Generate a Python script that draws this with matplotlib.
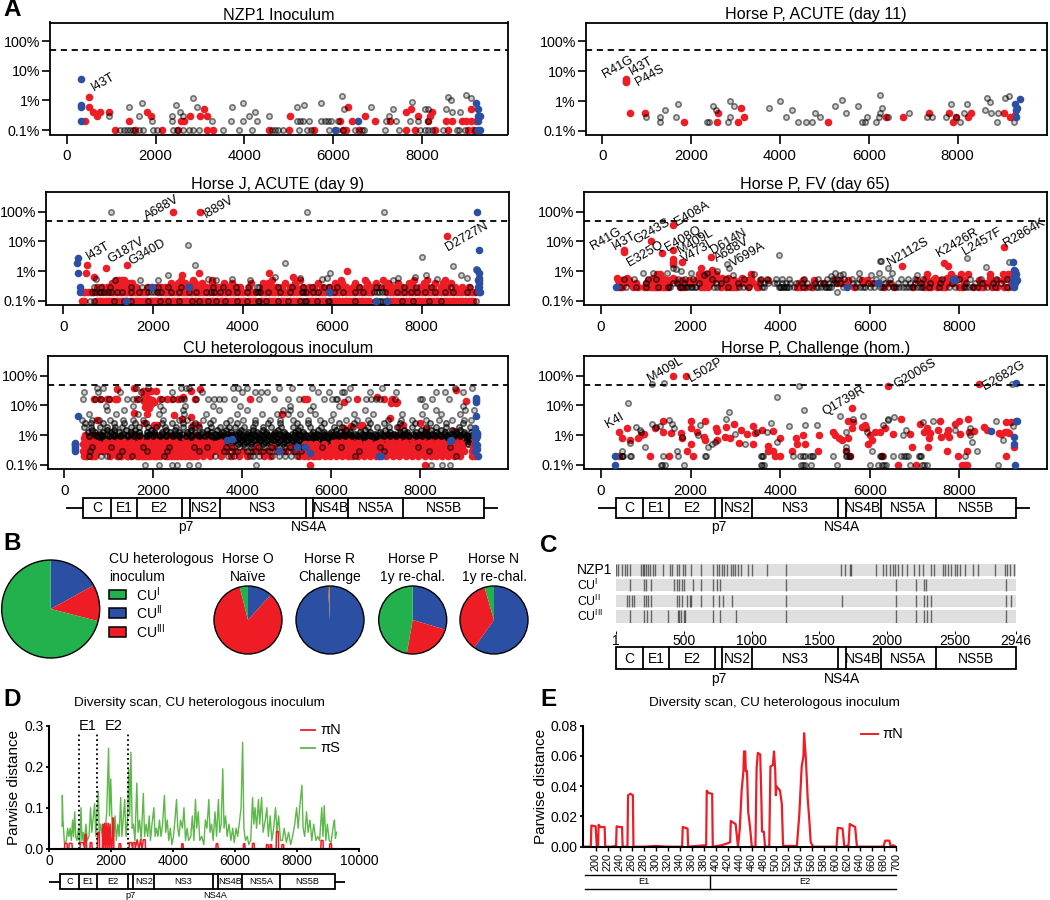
import matplotlib
matplotlib.use('Agg')
import matplotlib.pyplot as plt
from matplotlib.patches import Rectangle, Circle

plt.rcParams['font.family'] = ['Liberation Sans', 'DejaVu Sans']
plt.rcParams['mathtext.default'] = 'regular'

W, H = 1050, 900
RED = '#EE1C25'
BLUE = '#2B4FA2'
GREEN = '#22B14C'

# --- panel A: NZP1 inoculum ---
nzp_red_x = [510, 510, 600, 675, 750, 950, 410, 1095, 1410, 1545, 1815, 1890, 2145, 2500, 2570, 2650, 2775, 3090, 3000, 3165, 3150, 3285, 4560, 5030, 5000, 5565, 6150, 6210, 6300, 6325, 6435, 6710, 6940, 6585, 7290, 7635, 7750, 7900, 7635, 7840, 8220, 8175, 8145, 8290, 8590, 8550, 8685, 8890, 9000, 9110, 9210, 9105, 9040, 9150]
nzp_red_y = [1.3, 0.58, 0.4, 0.3, 0.4, 0.4, 0.2, 0.1, 0.2, 0.1, 0.4, 0.3, 0.1, 0.1, 0.2, 0.2, 0.3, 0.5, 0.3, 0.3, 0.1, 0.1, 0.1, 0.3, 0.1, 0.1, 0.2, 0.1, 0.1, 0.6, 0.2, 0.3, 0.2, 0.1, 0.2, 0.4, 0.5, 0.3, 0.1, 0.1, 0.4, 0.3, 0.2, 0.1, 0.1, 0.2, 0.2, 0.2, 0.2, 0.2, 0.2, 0.5, 0.1, 0.1]
nzp_blue_x = [330, 330, 330, 315, 9210, 9265, 9265, 9315, 9265, 6040, 6560, 9265, 9300]
nzp_blue_y = [5.4, 0.68, 0.58, 0.2, 0.8, 0.5, 0.3, 0.3, 0.2, 0.1, 0.2, 0.1, 0.1]
nzp_gray_x = [960, 1400, 1700, 1635, 1910, 2370, 2470, 2550, 2370, 2850, 2940, 2625, 3280, 3730, 3960, 3690, 3960, 4110, 4240, 4280, 4550, 5190, 5350, 5715, 5175, 5250, 5325, 5460, 5715, 5810, 5885, 5940, 6110, 6200, 6250, 6850, 7350, 7260, 7185, 7425, 7785, 7725, 8060, 8140, 7900, 8140, 8590, 8660, 8535, 8685, 8850, 9000, 9100]
nzp_gray_y = [0.3, 0.6, 0.8, 0.3, 0.2, 0.3, 0.7, 0.4, 0.2, 1.2, 0.6, 0.3, 0.2, 0.6, 0.8, 0.2, 0.2, 0.3, 0.4, 0.2, 0.3, 0.6, 0.7, 0.8, 0.2, 0.2, 0.2, 0.2, 0.2, 0.2, 0.2, 0.2, 0.2, 1.4, 0.5, 0.6, 0.5, 0.3, 0.2, 0.2, 0.9, 0.2, 0.5, 0.5, 0.2, 0.2, 1.3, 1.0, 0.5, 0.4, 0.4, 1.5, 1.25]
nzp_gray_01 = [1200, 1290, 1350, 1425, 1500, 1635, 1725, 1935, 2025, 2385, 2475, 2610, 2760, 2850, 2970, 3510, 3870, 4170, 4615, 4690, 4760, 4860, 5235, 5400, 5490, 5910, 6075, 6225, 6490, 6640, 6690, 7165, 7485, 7950, 8065, 8140, 8235, 8480, 8780, 8835, 8965, 9190]
nzp_labels = ['I43T']
nzp_label_x = [825]
nzp_label_y = [4.2]

# --- panel A: Horse P acute ---
pa_red_x = [525, 525, 525, 615, 960, 1830, 2600, 2580, 3120, 3050, 3190, 5070, 6380, 6760, 7355, 7805, 7960, 7900, 8290, 8240, 9040, 9180, 9290]
pa_red_y = [5.6, 4.8, 4.4, 0.4, 0.4, 0.2, 0.4, 0.2, 0.6, 0.2, 0.3, 0.2, 0.3, 0.3, 0.4, 0.4, 0.3, 0.2, 0.4, 0.3, 0.4, 0.3, 0.33]
pa_blue_x = [9400, 9280, 9330, 9305, 9320]
pa_blue_y = [1.2, 0.8, 0.6, 0.5, 0.3]
pa_gray_x = [975, 1290, 1290, 1420, 1660, 1710, 2350, 2410, 2500, 2550, 2840, 2875, 2875, 2970, 3760, 4000, 4135, 4260, 4410, 4585, 4710, 4790, 4890, 5230, 5395, 5490, 5760, 5840, 5910, 5965, 6160, 6230, 6260, 6300, 6260, 6440, 6905, 7320, 7415, 7730, 7850, 7960, 8050, 8150, 8220, 8615, 8660, 8735, 8750, 8880, 8915, 9065, 9165, 9260]
pa_gray_y = [0.3, 0.3, 0.2, 0.5, 0.3, 0.8, 0.2, 0.2, 0.7, 0.5, 0.2, 0.3, 1.0, 0.7, 0.6, 1.0, 0.3, 0.5, 0.2, 0.2, 0.2, 0.4, 0.3, 0.7, 1.1, 0.4, 0.7, 0.2, 0.2, 0.3, 0.2, 0.3, 0.4, 0.6, 1.6, 0.3, 0.4, 0.3, 0.3, 0.3, 0.8, 0.3, 0.2, 0.4, 0.8, 0.5, 1.25, 0.9, 0.4, 0.2, 0.4, 1.3, 1.45, 0.2]
pa_labels = ['R41G', 'I43T', 'P44S']
pa_label_x = [360, 870, 1073]
pa_label_y = [14, 15.3, 7.1]

# --- panel A: Horse J acute ---
j_red_x = [2455, 3050, 8570, 1415, 950, 520, 505, 690, 6330, 4590, 5135, 3020, 2640]
j_red_y = [100, 100, 15.5, 1.6, 1.25, 1.6, 0.9, 0.65, 1.0, 0.85, 0.65, 0.85, 0.75]
j_red_01 = [420, 470, 720, 770, 820, 870, 920, 970, 1020, 1070, 1120, 1170, 1230, 1280, 1330, 1380, 1430, 1490, 1540, 1600, 1650, 1700, 1760, 1820, 1870, 1930, 1980, 2040, 2090, 2150, 2210, 2260, 2320, 2370, 2430, 2480, 2540, 2590, 2650, 2710, 2760, 2820, 2870, 2930, 2990, 3040, 3100, 3150, 3210, 3270, 3320, 3380, 3440, 3490, 3550, 3610, 3660, 3720, 3780, 3830, 3890, 3950, 4000, 4060, 4120, 4170, 4230, 4280, 4390, 4440, 4500, 4560, 4620, 4680, 4730, 4790, 4850, 4910, 4970, 5030, 5090, 5150, 5210, 5270, 5330, 5440, 5500, 5560, 5620, 5680, 5730, 5790, 5850, 5980, 6040, 6100, 6160, 6220, 6280, 6340, 6400, 6460, 6520, 6580, 6640, 6700, 6760, 6820, 7230, 7290, 7350, 7410, 7470, 7530, 7590, 7650, 7710, 7770, 7830, 7890, 7950, 8010, 8070, 8130, 8190, 8250, 8310, 8370, 8430, 8490, 8550, 8610, 8670, 8730, 8790, 8850, 8910, 8970, 9030, 9090, 9150]
j_red_02 = [430, 490, 560, 610, 660, 760, 830, 880, 950, 1010, 1090, 1140, 1200, 1260, 1310, 1370, 1420, 1480, 1540, 1590, 1650, 1720, 1790, 1840, 2120, 2190, 2250, 2300, 2360, 2410, 2470, 2530, 2590, 2640, 2700, 2760, 2820, 2880, 2940, 3000, 3060, 3120, 3190, 3260, 3350, 3420, 3480, 3540, 3600, 3660, 3720, 3780, 3840, 3900, 3960, 4020, 4090, 4150, 4210, 4270, 4410, 4470, 4530, 4600, 4660, 4720, 4790, 4860, 4930, 5000, 5060, 5120, 5200, 5280, 5400, 5470, 5550, 5640, 5710, 5780, 5850, 5950, 6020, 6090, 6160, 6230, 6310, 6380, 6450, 6520, 6590, 6660, 6730, 6800, 6870, 7230, 7300, 7370, 7440, 7510, 7580, 7650, 7720, 7790, 7860, 7930, 8000, 8070, 8140, 8210, 8280, 8350, 8420, 8490, 8560, 8630, 8700, 8770, 8840, 8910, 8980, 9050, 9120, 9190]
j_red_03 = [760, 860, 980, 1050, 1120, 1190, 1260, 1320, 1380, 1440, 1500, 1560, 1620, 1900, 2060, 2170, 2260, 2380, 2470, 2560, 2650, 2760, 2900, 2980, 3080, 3190, 3300, 3420, 3520, 3650, 3780, 3880, 3950, 4140, 4450, 4590, 4680, 4770, 4880, 5050, 5200, 5350, 5480, 5600, 5780, 5920, 6050, 6180, 6300, 6460, 6600, 6750, 6880, 7020, 7180, 7330, 7450, 7560, 7690, 7810, 7960, 8120, 8260, 8430, 8560, 8750, 8900, 9060]
j_red_04 = [1080, 1170, 1240, 1300, 1360, 1420, 1480, 1540, 2410, 2560, 2610, 2710, 2880, 2950, 3100, 3320, 3580, 3760, 4190, 4450, 4560, 4950, 5170, 5680, 6070, 6210, 6500, 6790, 6990, 7250, 7480, 7720, 8060, 8290, 8480, 8650]
j_red_05 = [1170, 1240, 1300, 1360, 2620, 2900, 3330, 4650, 5290, 6190, 6730, 7130, 7830, 8120, 8530]
j_blue_x = [320, 310, 320, 370, 370, 9240, 9280, 9225, 9280, 9270, 9290, 9260, 9280, 9260, 9290, 9270, 9300, 5940, 1400, 1970, 2800, 7220, 6980]
j_blue_y = [2.8, 1.9, 0.85, 0.3, 0.2, 100, 5, 1.1, 0.85, 0.6, 0.5, 0.5, 0.4, 0.3, 0.3, 0.2, 0.2, 0.2, 0.1, 0.3, 0.3, 0.1, 0.1]
j_gray_x = [1055, 5450, 7160, 2775, 2940, 4955, 8005, 8690, 8870, 9210, 2345, 5950, 4725, 7850, 8095, 1160, 1720, 2120, 3230, 3400, 5290, 5780, 5880, 7370, 7480, 8340, 9000, 740, 3770, 4160]
j_gray_y = [100, 100, 100, 7.8, 1.6, 1.95, 3, 1.5, 0.75, 1.2, 0.75, 0.85, 0.65, 0.65, 0.75, 0.5, 0.5, 0.5, 0.55, 0.5, 0.6, 0.55, 0.6, 0.5, 0.6, 0.55, 0.6, 0.55, 0.55, 0.5]
j_gray_01 = [600, 690, 1130, 1350, 1510, 1880, 2150, 2330, 2590, 2870, 3020, 3240, 3400, 3610, 3870, 4090, 4340, 4360, 4520, 4800, 5010, 5290, 5390, 5420, 5660, 5900, 5920, 6500, 6950, 7020, 7060, 7120, 7170, 7560, 7800, 8160, 8420, 9220]
j_gray_02 = [650, 700, 790, 850, 900, 1000, 1070, 1200, 1300, 1500, 1700, 1880, 1960, 2030, 2100, 2180, 2400, 2580, 2800, 2960, 3180, 3300, 3370, 3500, 3680, 3870, 4100, 4300, 4350, 4380, 4560, 4830, 5060, 5330, 5360, 5420, 5570, 5680, 5920, 6040, 6240, 6500, 6700, 6940, 7000, 7050, 7110, 7170, 7440, 7600, 7760, 7900, 8080, 8300, 8520, 8690, 9010, 9220]
j_gray_03 = [680, 850, 1040, 1520, 1760, 1860, 2110, 2340, 2630, 2800, 3350, 3560, 3850, 4130, 4320, 4370, 4800, 5110, 5350, 5560, 5830, 5920, 6120, 6590, 6980, 7090, 7600, 7880, 8210, 8650, 9080]
j_labels = ['I43T', 'G187V', 'G340D', 'A688V', 'I889V', 'D2727N']
j_label_x = [781, 1400, 1875, 2200, 3460, 9000]
j_label_y = [4.9, 4.9, 4.3, 131, 138, 14.3]

# --- panel A: Horse P FV ---
fv_red_x = [1615, 1115, 1615, 1355, 515, 515, 1615, 1615, 1615, 1800, 2455, 8990, 6725, 7665, 7750, 2230, 2470]
fv_red_y = [35, 10.5, 5.3, 4, 5, 4.3, 2.5, 2.1, 1.8, 2, 3, 6.5, 1.5, 1.9, 1.45, 1.25, 1.1]
fv_red_03 = [410, 480, 720, 830, 960, 1030, 1090, 1150, 1200, 1260, 1310, 1390, 1440, 1490, 1770, 1850, 2240, 2310, 2390, 2690, 2790, 2880, 2950, 3010, 3280, 3480, 3500, 4370, 4450, 4560, 4700, 5640, 6310, 6550, 6960, 7220, 7290, 7370, 7500, 7610, 7680, 7990, 8060, 8300, 8450, 8540, 8730, 8850, 9000, 9090]
fv_red_04 = [400, 520, 650, 780, 1010, 1120, 1180, 1240, 1300, 1350, 1410, 1470, 1520, 1720, 1900, 2000, 2250, 2350, 2450, 2720, 2830, 2900, 3000, 3100, 3220, 3400, 4420, 4750, 4980, 5260, 5380, 5500, 5860, 6030, 6420, 7190, 7280, 7450, 7520, 7600, 7740, 7860, 8100, 8550, 8640, 8780]
fv_red_05 = [380, 470, 620, 1060, 1140, 1200, 1270, 1330, 1380, 1450, 1530, 1650, 1810, 1960, 2120, 2250, 2360, 2510, 2650, 2760, 2860, 2960, 3120, 3290, 3540, 3720, 4510, 4760, 5220, 5330, 5520, 5820, 5950, 7060, 7240, 7410, 7560, 7680, 7800, 7920, 8100, 8430, 8850, 8970, 9140]
fv_red_06 = [350, 580, 1170, 1240, 1300, 1370, 1600, 2220, 2310, 2420, 2520, 2580, 2700, 2840, 3140, 3350, 7250, 7460, 7720, 7900, 8020, 8680, 9010, 9120]
fv_red_08 = [1250, 1320, 2180, 2260, 2340, 2410, 2570, 3340, 7270, 7820, 8030, 8200, 8690, 8980, 9090, 9160]
fv_blue_x = [340, 5490, 6190, 7850, 7900, 9210, 9225, 9250, 9270, 9200, 9240, 9210, 9265, 9210, 9240, 9280, 9230]
fv_blue_y = [0.3, 0.3, 0.4, 0.55, 0.5, 2, 1.1, 1.05, 0.8, 0.6, 0.55, 0.4, 0.55, 0.35, 0.4, 0.5, 0.3]
fv_gray_x = [3965, 8170, 6220, 6250, 2810, 2855, 9110, 8600, 6400, 5260, 1610, 1680, 1470, 3420, 6030, 5750, 6200, 6500, 7050, 930, 1170, 1780, 2010, 2600, 2940, 5140, 5230, 5340, 5400, 2290, 2370]
fv_gray_y = [3.5, 2.7, 2.2, 2.2, 1.8, 1.3, 2, 1.4, 1.3, 0.2, 1.3, 1.2, 0.85, 0.8, 0.75, 0.9, 0.85, 0.85, 0.75, 0.85, 0.9, 1.0, 0.9, 1.0, 0.75, 0.7, 0.85, 0.75, 0.8, 0.75, 0.85]
fv_gray_03 = [430, 560, 780, 1010, 1280, 1500, 1540, 1760, 1800, 1890, 1950, 2000, 2040, 2090, 2130, 2520, 2600, 2830, 3080, 3180, 3300, 3600, 3650, 3980, 4000, 4020, 4060, 4090, 4120, 4150, 4200, 4300, 4500, 4650, 4800, 4850, 4920, 5000, 5030, 5060, 5090, 5130, 5410, 5700, 5780, 5850, 5900, 6000, 6100, 6220, 6280, 6400, 6520, 6590, 6650, 6750, 6800, 6870, 6950, 7050, 7120, 7170, 7330, 7550, 7780, 7900, 8110, 8160, 8220, 8310, 8390, 8610, 8800, 9060, 9180]
fv_gray_04 = [1000, 1600, 1700, 1850, 2190, 2560, 2670, 3070, 3560, 3640, 3720, 3860, 3930, 4040, 4130, 4230, 4360, 4480, 4610, 4780, 4900, 4960, 5100, 5180, 5250, 5340, 5620, 5720, 5960, 6100, 6190, 6330, 6480, 6640, 6780, 6900, 7000, 7140, 7340, 7580, 7840, 8140, 8350, 8500, 8760, 8920]
fv_gray_05 = [520, 740, 1060, 1230, 1710, 1880, 2060, 2480, 2780, 3200, 3580, 3700, 3900, 4050, 4200, 4540, 4850, 5050, 5170, 5280, 5420, 5600, 5750, 6150, 6300, 6460, 6700, 6860, 7010, 7200, 7620, 8000, 8250, 8480, 8830, 9060]
fv_labels = ['R41G', 'I43T', 'G243S', 'E408A', 'E325Q', 'E408Q', 'M409L', 'V473I', 'D614N', 'A688V', 'V699A', 'N2112S', 'K2426R', 'L2457F', 'R2864K']
fv_label_x = [110, 520, 1130, 2025, 997, 1838, 2098, 2135, 2857, 2917, 3274, 6860, 7961, 8512, 9442]
fv_label_y = [11.7, 10.5, 21, 82, 3.9, 12.6, 9.8, 4.5, 9.8, 5.1, 3.5, 4.5, 9, 9.8, 20]

# --- panel A: CU heterologous inoculum ---
cu_red_x = [1180, 1570, 1780, 1870, 1950, 2060, 2860, 3050, 8800, 9030, 4170, 5390, 5450, 6280, 6580, 7030, 7200, 7340, 7380, 7450, 7480, 660, 1190, 1130, 800, 950, 1000, 1640, 2150, 2300, 2420, 2550, 2680, 2950, 1800, 1830, 1860, 1900, 1930, 1970, 2010, 1790, 1850, 1880, 1960, 1820, 1900, 1560, 1860, 2470, 2650, 2850, 4900, 7330, 8000, 730, 1800, 2020, 2080, 2890, 3000, 6700, 7620, 6450, 6300, 6640, 7520, 8130, 8760, 5520, 8110]
cu_red_y = [35, 40, 30, 30, 30, 30, 30, 35, 33, 14, 17, 17, 17, 13, 17, 19, 17, 12, 17, 12, 13, 17, 17, 17, 17, 17, 17, 17, 17, 17, 17, 17, 19, 17, 22, 20, 18, 16, 14, 15, 13, 14, 12, 10, 11, 9, 8, 5.7, 5, 4.8, 3.5, 4.2, 5, 3.8, 2.6, 3.2, 2.5, 2.2, 2.2, 2.2, 2.2, 2.2, 2.2, 2, 1.7, 2, 1.9, 1.6, 1.4, 0.1, 0.1]
cu_red_02 = [440, 490, 520, 590, 640, 690, 1020, 1180, 1240, 1280, 1400, 1430, 1490, 1640, 1690, 1740, 1790, 1830, 1890, 1920, 2010, 2070, 2150, 2290, 2330, 2410, 2470, 2530, 2620, 2710, 2800, 2860, 2900, 2990, 3120, 3280, 3520, 3760, 3940, 4110, 4500, 4620, 5280, 5380, 5490, 5590, 5630, 5730, 5870, 5980, 6110, 6240, 6370, 6480, 6600, 6730, 6870, 7000, 7240, 7390, 7530, 7680, 7830, 7960, 8110, 8240, 8370, 8500, 8640, 8770, 8910, 9160, 9230]
cu_red_03 = [420, 490, 560, 640, 760, 880, 1000, 1120, 1240, 1340, 1460, 1580, 1700, 1820, 1950, 2070, 2190, 2320, 2450, 2570, 2690, 2830, 2960, 3080, 3210, 3340, 3470, 3640, 3850, 4030, 4240, 4400, 4550, 4780, 4960, 5160, 5340, 5470, 5620, 5780, 5920, 6050, 6170, 6310, 6440, 6560, 6690, 6810, 6950, 7080, 7210, 7340, 7480, 7620, 7770, 7900, 8050, 8170, 8310, 8450, 8590, 8720, 8860, 8990, 9180]
cu_red_04 = [460, 530, 600, 720, 840, 960, 1090, 1210, 1310, 1430, 1550, 1670, 1790, 1910, 2040, 2170, 2280, 2400, 2510, 2640, 2770, 2900, 3030, 3150, 3300, 3430, 3560, 3740, 4340, 4680, 5080, 5440, 5570, 5700, 5830, 6000, 6130, 6270, 6400, 6530, 6650, 6780, 6900, 7040, 7170, 7300, 7440, 7580, 7720, 7860, 8000, 8140, 8280, 8410, 8550, 8680, 8820, 8950, 9200]
cu_red_05 = [430, 500, 620, 780, 920, 1040, 1160, 1280, 1400, 1520, 1640, 1770, 1880, 2010, 2130, 2250, 2380, 2490, 2610, 2750, 2870, 3000, 3130, 3270, 3390, 3530, 5410, 5530, 5660, 5850, 6090, 6230, 6360, 6480, 6620, 6760, 6870, 7010, 7130, 7270, 7410, 7550, 7690, 7840, 7970, 8100, 8250, 8390, 8530, 8660, 8790, 8930, 9220]
cu_red_06 = [470, 560, 680, 940, 1080, 1350, 1490, 1730, 1860, 2110, 2360, 2480, 2730, 2980, 3110, 3250, 3510, 6070, 6340, 6600, 6850, 7110, 7380, 7660, 7950, 8220, 8500, 8770, 9240]
cu_red_08 = [450, 540, 660, 1220, 1530, 1710, 1990, 2240, 2470, 2720, 2970, 3240, 3520, 6190, 6450, 7230, 7510, 7790, 8070, 8350, 8890, 9220, 9260]
cu_red_10 = [470, 590, 730, 1550, 2050, 2340, 2960, 3230, 3750, 6320, 7360, 7640, 8060, 9230]
cu_blue_x = [310, 250, 250, 250, 250, 250, 250, 9260, 9270, 9270, 9260, 9240, 9240, 9260, 9290, 9240, 9290, 9250, 9280, 9240, 9270, 9230, 9290, 9290, 9230, 9300, 3650, 3780, 4830, 5530, 7120, 7070, 8700, 8680, 5230, 5410]
cu_blue_y = [4.3, 0.55, 0.5, 0.45, 0.4, 0.35, 0.3, 18, 15, 13, 4.3, 1.7, 1.4, 1.3, 1.2, 1.1, 1.05, 0.95, 0.9, 0.85, 0.8, 0.5, 0.45, 0.35, 0.3, 0.2, 0.7, 0.75, 0.3, 0.25, 0.2, 0.2, 0.7, 0.65, 0.4, 0.4]
cu_gray_01 = [1810, 2120, 2420, 2530, 2810, 3000, 4310, 8240, 8500, 8680]
cu_gray_02 = [560, 820, 960, 1240, 1530, 2250, 3390, 3680, 3820, 4170, 4240, 4390, 4670, 4820, 4960, 5100, 5240, 6530, 7100, 8820]
cu_gray_03 = [580, 1290, 1870, 2300, 3020, 3600, 3740, 3880, 4100, 4170, 4320, 4460, 4600, 4750, 4890, 5030, 5180, 5320, 6620, 7190, 8200]
cu_gray_04 = [630, 1050, 1770, 2350, 2920, 3210, 3640, 3780, 3930, 4070, 4210, 4360, 4500, 4640, 4790, 4930, 5070, 5220, 5360, 5790, 6230, 7090, 7950, 8670]
cu_gray_05 = [470, 610, 740, 890, 1030, 1170, 1310, 1460, 1600, 1750, 1890, 2030, 2180, 2320, 2460, 2610, 2750, 2900, 3040, 3180, 3330, 3470, 3610, 3760, 3900, 4050, 4190, 4330, 4480, 4620, 4770, 4910, 5050, 5200, 5340, 5480, 5630, 5770, 5910, 6060, 6200, 6350, 6490, 6630, 6780, 6920, 7060, 7210, 7350, 7500, 7640, 7780, 7930, 8070, 8210, 8360, 8500, 8650, 8790, 8930, 9080, 9200]
cu_gray_06 = [520, 650, 790, 930, 1070, 1220, 1360, 1500, 1650, 1790, 1940, 2080, 2220, 2370, 2510, 2650, 2800, 2940, 3090, 3230, 3370, 3520, 3660, 3800, 3950, 4090, 4230, 4380, 4520, 4660, 4810, 4950, 5090, 5240, 5380, 5530, 5670, 5810, 5960, 6100, 6250, 6390, 6530, 6680, 6820, 6960, 7110, 7250, 7390, 7540, 7680, 7830, 7970, 8110, 8260, 8400, 8540, 8690, 8830, 8980, 9120, 9200]
cu_gray_07 = [600, 720, 870, 1010, 1130, 1280, 1400, 1550, 1720, 1830, 1980, 2130, 2270, 2400, 2560, 2700, 2850, 2990, 3130, 3280, 3420, 3580, 3700, 3850, 3990, 4120, 4270, 4410, 4560, 4700, 4860, 4990, 5130, 5280, 5420, 5570, 5700, 5850, 6000, 6140, 6280, 6420, 6570, 6710, 6860, 7000, 7140, 7290, 7430, 7570, 7720, 7870, 8010, 8150, 8290, 8440, 8580, 8730, 8870, 9020, 9150]
cu_gray_08 = [490, 620, 770, 900, 1040, 1190, 1330, 1470, 1620, 1770, 1910, 2050, 2200, 2340, 2480, 2630, 2770, 2910, 3060, 3200, 3350, 3490, 3630, 3780, 3920, 4060, 4210, 4350, 4490, 4640, 4780, 4930, 5070, 5210, 5360, 5500, 5640, 5790, 5930, 6080, 6220, 6360, 6510, 6650, 6790, 6940, 7080, 7220, 7370, 7510, 7660, 7800, 7940, 8090, 8230, 8370, 8520, 8660, 8800, 8950, 9090, 9210]
cu_gray_09 = [560, 740, 850, 1000, 1110, 1260, 1440, 1570, 1690, 1860, 2000, 2160, 2290, 2440, 2590, 2730, 2870, 3030, 3160, 3310, 3460, 3600, 3730, 3890, 4030, 4180, 4310, 4460, 4610, 4740, 4900, 5040, 5170, 5330, 5460, 5610, 5750, 5890, 6040, 6180, 6320, 6470, 6600, 6760, 6900, 7040, 7190, 7330, 7470, 7620, 7760, 7910, 8050, 8190, 8340, 8470, 8620, 8770, 8910, 9050]
cu_gray_10 = [690, 840, 1130, 1270, 1420, 1710, 1850, 2140, 2280, 2430, 2570, 2860, 3000, 3290, 3430, 3580, 3720, 3860, 4010, 4150, 4290, 4440, 4580, 4720, 4870, 5010, 5160, 5300, 5440, 5590, 5730, 5870, 6020, 6160, 6300, 6450, 6590, 6740, 6880, 7020, 7170, 7310, 7450, 7600, 7740, 7880, 8030, 8170, 8320, 8460, 8600, 8750, 8890, 9030, 9180]
cu_gray_11 = [800, 950, 1090, 1330, 1490, 1600, 1900, 2020, 2190, 2500, 2640, 2790, 3080, 3220, 3400, 3510, 3670, 3830, 3960, 4110, 4250, 4390, 4530, 4690, 4830, 4970, 5120, 5260, 5400, 5540, 5680, 5830, 5980, 6110, 6260, 6400, 6540, 6700, 6840, 6980, 7120, 7270, 7410, 7550, 7690, 7840, 7980, 8130, 8270, 8410, 8560, 8700, 8840, 8990]
cu_gray_13 = [530, 700, 880, 1050, 1230, 1490, 1680, 1850, 2010, 2190, 2370, 2580, 2760, 2930, 3100, 3310, 3560, 3750, 3920, 4130, 4330, 4540, 4730, 4950, 5180, 5360, 5590, 5830, 5990, 6210, 6420, 6650, 6880, 7100, 7330, 7540, 7700, 7900, 8120, 8350, 8560, 8800, 8990, 9150]
cu_gray_15 = [620, 960, 1120, 1390, 1590, 1950, 2290, 2480, 2850, 3200, 3430, 3640, 3980, 4240, 4480, 4810, 5250, 5700, 6120, 6330, 6760, 7220, 7640, 8030, 8240, 8480, 8710, 8910]
cu_gray_18 = [440, 610, 800, 950, 1140, 1290, 1510, 1670, 1880, 2070, 2260, 2510, 2670, 2840, 3040, 3290, 3510, 3700, 3850, 4050, 4250, 4470, 4660, 4870, 5140, 5310, 5520, 5770, 6060, 6240, 6500, 6830, 7040, 7310, 7490, 7830, 8130, 8370, 8580, 8870, 9130]
cu_gray_25 = [470, 590, 880, 1110, 1340, 1590, 1830, 2190, 2430, 2680, 2930, 3280, 3640, 3880, 4280, 4590, 4860, 5230, 5480, 5840, 6170, 6520, 6870, 7200, 7560, 7880, 8230, 8590, 8960]
cu_gray_3 = [400, 620, 780, 1020, 1330, 1540, 1780, 2230, 2580, 2770, 3130, 3340, 3720, 4030, 4290, 4620, 4860, 5150, 5480, 5760, 5990, 6330, 6580, 6830, 7270, 7570, 7820, 8130, 8430, 8710, 8980, 9150]
cu_gray_5 = [560, 1160, 1650, 2120, 2690, 3180, 3880, 4450, 4790, 5020, 5310, 5640, 6040, 6520, 6950, 7590, 8040, 8480, 8900]
cu_gray_7 = [950, 1340, 2230, 2680, 3480, 4100, 4920, 5080, 5530, 6770, 8350, 9010, 9220]
cu_gray_9 = [930, 1540, 2150, 2720, 3350, 3960, 5070, 5600, 6170, 8120, 8960]
cu_gray_17 = [420, 680, 830, 1010, 1420, 1550, 1680, 2200, 2440, 2620, 2700, 2970, 3240, 3360, 3470, 3600, 3810, 4390, 4720, 5040, 5280, 5840, 6020, 6100, 6140, 6380, 6780, 6890, 7010, 7100, 7440, 7990, 8040, 8270, 8660]
cu_gray_40 = [730, 880, 1610, 1890, 2620, 2730, 2800, 3800, 3910, 4120, 4840, 5120, 5570, 6430, 7140, 8780, 9170]
cu_gray_28 = [440, 760, 1260, 1720, 2430, 3100, 3990, 4300, 4430, 4570, 5700, 5960, 6250, 6300, 6880, 7460, 8360, 8560, 8960]

# --- panel A: Horse P challenge ---
ch_red_x = [1615, 1900, 6405, 8430, 5600, 395, 470, 580, 640, 830, 890, 960, 1095, 1200, 1375, 1390, 1555, 1520, 1780, 1800, 1920, 2000, 2015, 2015, 2060, 2140, 2320, 2305, 2330, 2575, 2580, 2580, 2790, 2775, 2880, 2960, 3080, 3125, 3250, 3400, 3440, 3400, 3600, 3720, 3735, 3850, 3850, 3990, 4000, 3880, 4255, 4345, 4370, 4500, 4560, 4835, 4865, 5170, 5225, 5310, 5370, 5505, 5470, 5520, 5610, 5630, 5830, 5890, 5920, 6010, 5965, 6055, 6115, 6235, 6340, 6280, 6525, 6640, 6695, 6900, 6950, 7025, 7130, 7210, 7270, 7320, 7305, 7350, 7530, 7570, 7590, 7715, 7715, 7770, 7750, 7900, 7990, 7975, 8010, 8060, 8120, 8170, 8165, 8185, 8215, 8335, 8555, 8610, 8885, 8930, 9020, 9075, 9040, 9040, 9165, 9105, 9220, 400, 5570]
ch_red_y = [100, 100, 46, 52, 8.5, 1.3, 0.8, 1.8, 0.7, 0.8, 1.05, 1.1, 0.2, 1.8, 3, 1.3, 1.15, 0.2, 1.15, 0.8, 0.3, 0.5, 2.9, 1.8, 0.2, 1.3, 3, 0.9, 0.7, 1.7, 1.4, 0.7, 1.9, 0.9, 0.8, 2.4, 0.57, 1.55, 1.1, 2, 1.15, 0.5, 1.55, 0.43, 0.3, 0.3, 1.4, 0.8, 0.2, 0.2, 0.3, 0.8, 0.5, 1, 0.5, 0.3, 1, 1.3, 1, 0.8, 0.7, 0.8, 0.3, 3, 1.8, 2.8, 1.9, 2.2, 1.7, 1, 0.5, 0.7, 1.3, 1.3, 1.7, 0.2, 1.1, 0.1, 3.6, 1.1, 0.4, 0.1, 2.4, 1.3, 1.8, 0.8, 0.4, 1.15, 1.55, 3, 0.9, 1.1, 0.3, 0.9, 1.55, 2.4, 3, 0.2, 1.1, 0.1, 0.1, 0.1, 0.3, 3.4, 1.3, 1.4, 1.9, 1.55, 1.2, 1.1, 1.25, 1.3, 2.7, 0.2, 2.7, 1.15, 0.4, 0.2, 0.2]
ch_blue_x = [9255, 9255, 9285, 8705, 9230, 9230, 9240, 310, 310]
ch_blue_y = [55, 2.9, 2.9, 1.4, 0.9, 0.5, 0.1, 0.2, 0.1]
ch_gray_x = [1145, 1415, 4410, 9185, 3940, 600, 4540, 2850, 2790, 5335, 5630, 5850, 6415, 6550, 3795, 4195, 4560, 4830, 1145, 1520, 1580, 1640, 775, 870, 900, 1230, 1320, 2200, 460, 650, 980, 1800, 1690, 2170, 2380, 2470, 2545, 2990, 3215, 3475, 3700, 3935, 5480, 5480, 5470, 5950, 6040, 6300, 6410, 6820, 6750, 7195, 7420, 7900, 8240, 8290, 8385, 8240, 8830, 8980, 9205]
ch_gray_y = [52, 55, 46, 53, 20, 12, 6.8, 6, 3.6, 4.3, 3.6, 4.4, 3.5, 4, 2.6, 2.1, 2.2, 2.2, 2.4, 3.2, 2.4, 1.8, 1.9, 1.55, 1.3, 1.9, 2, 2.2, 0.3, 0.55, 0.4, 0.9, 0.3, 1, 0.4, 0.5, 0.6, 1.1, 0.5, 1.3, 1.3, 0.6, 1.3, 0.4, 0.3, 1.3, 0.3, 2.2, 3.2, 1.55, 1, 2.7, 2.9, 1.55, 1, 0.6, 0.3, 1.7, 2.9, 0.7, 2]
ch_gray_02 = [460, 480, 500, 640, 660, 1380, 1725, 2320, 2340, 3570, 3590, 3610, 4295, 4440, 4520, 4560, 4665, 4700, 4740, 5170, 5480, 5500, 5530, 5550, 6230, 6250, 6300, 6525, 6700, 6760, 6820, 6860, 7100, 7130, 7150, 8125]
ch_gray_01 = [1340, 1370, 1420, 1855, 3570, 3600, 3630, 4465, 4520, 4560, 4680, 5260, 6010, 6190, 6270, 6320, 6370, 6900, 7160, 7210, 7270, 8855]
ch_labels = ['M409L', 'L502P', 'K4I', 'Q1739R', 'G2006S', 'E2682G']
ch_label_x = [1443, 2336, 298, 5432, 7024, 8996]
ch_label_y = [163, 148, 3.2, 14.5, 114, 98]

# --- genome map ---
gene_edges = [427, 1050, 1634, 2654, 2826, 3500, 5427, 5600, 6387, 7624, 9440]
gene_names = ['C', 'E1', 'E2', '', 'NS2', 'NS3', '', 'NS4B', 'NS5A', 'NS5B']

# --- panel B ---
pie_big = [17, 12, 71]
pie_titles = ['Horse O\nNaïve', 'Horse R\nChallenge', 'Horse P\n1y re-chal.', 'Horse N\n1y re-chal.']
pie_blue = [11.7, 99.0, 29.6, 59.9]
pie_red = [84.4, 0.6, 23.2, 35.6]
pie_green = [3.9, 0.4, 47.2, 4.5]

# --- panel C: variant positions per row ---
track_names = ['NZP1', 'CU$^{I}$', 'CU$^{II}$', 'CU$^{III}$']
track_nzp1 = [1, 17, 42, 69, 81, 106, 185, 197, 209, 221, 239, 253, 271, 288, 344, 399, 413, 450, 467, 492, 512, 554, 627, 718, 745, 763, 780, 799, 819, 849, 863, 878, 898, 922, 977, 1004, 1112, 1250, 1656, 1690, 1722, 1734, 1919, 1968, 1993, 2017, 2042, 2059, 2079, 2111, 2148, 2197, 2231, 2263, 2320, 2344, 2411, 2428, 2448, 2472, 2497, 2517, 2534, 2571, 2632, 2669, 2792, 2866, 2883, 2903, 2932]
track_cu1 = [106, 204, 221, 258, 430, 447, 467, 484, 504, 566, 627, 713, 745, 770, 1250, 2061, 2214, 2268, 2283, 2873]
track_cu2 = [81, 98, 116, 130, 204, 221, 234, 258, 447, 462, 484, 521, 546, 554, 627, 713, 763, 792, 853, 1250, 1667, 2061, 2214, 2268, 2293, 2325, 2873, 2915]
track_cu3 = [106, 204, 229, 258, 386, 455, 467, 479, 499, 509, 713, 770, 885, 1250, 2061, 2214, 2268, 2293, 2325, 2873]
track_ticks = [1, 500, 1000, 1500, 2000, 2500, 2946]

# --- panel D ---
scan_x = [420, 430, 450, 500, 560, 600, 640, 680, 720, 760, 790, 830, 860, 900, 950, 990, 1030, 1060, 1100, 1130, 1190, 1230, 1290, 1340, 1380, 1420, 1470, 1510, 1550, 1590, 1620, 1660, 1720, 1760, 1800, 1860, 1920, 1950, 1990, 2040, 2090, 2130, 2170, 2220, 2260, 2310, 2350, 2400, 2440, 2480, 2530, 2570, 2600, 2640, 2680, 2720, 2770, 2830, 2870, 2920, 2970, 3040, 3080, 3130, 3180, 3230, 3270, 3320, 3380, 3420, 3460, 3510, 3560, 3610, 3660, 3720, 3760, 3810, 3860, 3910, 3960, 4010, 4060, 4110, 4150, 4190, 4240, 4300, 4350, 4400, 4450, 4500, 4570, 4620, 4670, 4720, 4760, 4810, 4860, 4920, 4990, 5040, 5090, 5150, 5190, 5240, 5290, 5350, 5400, 5460, 5500, 5550, 5600, 5640, 5690, 5740, 5800, 5860, 5920, 5970, 6030, 6080, 6130, 6190, 6240, 6280, 6330, 6390, 6440, 6500, 6560, 6600, 6640, 6690, 6750, 6790, 6850, 6900, 6970, 7020, 7070, 7130, 7180, 7240, 7300, 7350, 7400, 7460, 7520, 7580, 7650, 7720, 7790, 7850, 7920, 7980, 8030, 8090, 8150, 8190, 8240, 8300, 8350, 8410, 8470, 8530, 8600, 8660, 8720, 8790, 8830, 8870, 8920, 8970, 9030, 9090, 9170, 9200, 9230, 9270]
scan_pis = [0.055, 0.13, 0.07, 0.01, 0.02, 0.05, 0.03, 0.05, 0.02, 0.07, 0.03, 0.09, 0.03, 0.02, 0.05, 0.01, 0.1, 0.02, 0.04, 0.01, 0.06, 0.02, 0.03, 0.1, 0.04, 0.07, 0.11, 0.03, 0.09, 0.14, 0.03, 0.06, 0.03, 0.05, 0.03, 0.09, 0.245, 0.08, 0.17, 0.04, 0.03, 0.08, 0.02, 0.06, 0.03, 0.125, 0.03, 0.08, 0.12, 0.03, 0.07, 0.195, 0.08, 0.235, 0.05, 0.06, 0.02, 0.16, 0.04, 0.07, 0.02, 0.135, 0.03, 0.06, 0.03, 0.08, 0.02, 0.06, 0.1, 0.03, 0.05, 0.03, 0.07, 0.03, 0.06, 0.13, 0.04, 0.07, 0.02, 0.05, 0.01, 0.03, 0.07, 0.12, 0.05, 0.03, 0.07, 0.05, 0.1, 0.02, 0.05, 0.02, 0.03, 0.08, 0.02, 0.12, 0.05, 0.09, 0.02, 0.03, 0.01, 0.07, 0.05, 0.12, 0.04, 0.06, 0.02, 0.09, 0.03, 0.12, 0.04, 0.06, 0.195, 0.05, 0.08, 0.03, 0.06, 0.02, 0.05, 0.015, 0.05, 0.03, 0.06, 0.1, 0.26, 0.05, 0.02, 0.03, 0.01, 0.02, 0.125, 0.06, 0.1, 0.05, 0.12, 0.06, 0.125, 0.04, 0.07, 0.1, 0.03, 0.08, 0.02, 0.05, 0.1, 0.04, 0.08, 0.02, 0.02, 0.05, 0.015, 0.04, 0.01, 0.03, 0.06, 0.1, 0.05, 0.11, 0.155, 0.05, 0.03, 0.09, 0.04, 0.07, 0.02, 0.06, 0.02, 0.03, 0.02, 0.1, 0.03, 0.105, 0.02, 0.06, 0.02, 0.015, 0.06, 0.07, 0.025, 0.04]
scan_n_x = [400, 500, 510, 580, 590, 640, 650, 740, 750, 1000, 1010, 1100, 1150, 1160, 1200, 1210, 1320, 1330, 1380, 1390, 1560, 1570, 1620, 1630, 1720, 1730, 1760, 1790, 1820, 1850, 1880, 1910, 1940, 1970, 2000, 2030, 2060, 2080, 2090, 2250, 2260, 2310, 2320, 2580, 2590, 2650, 2700, 2710, 2770, 2780, 2840, 2900, 2950, 3000, 3040, 3100, 3110, 4270, 4280, 4320, 4330, 5380, 5390, 5440, 5450, 6260, 6270, 6310, 6320, 6550, 6560, 6610, 6620, 7000, 7010, 7060, 7070, 7120, 7130, 7170, 7180, 7320, 7330, 7390, 7400, 7500, 7510, 7560, 7570, 8760, 8770, 8830, 8840, 9040, 9050, 9100, 9110, 9300]
scan_pin = [0.0, 0.0, 0.013, 0.013, 0.0, 0.0, 0.013, 0.013, 0.0, 0.0, 0.015, 0.015, 0.0, 0.035, 0.035, 0.0, 0.0, 0.015, 0.015, 0.0, 0.0, 0.04, 0.04, 0.0, 0.0, 0.06, 0.0, 0.062, 0.0, 0.062, 0.0, 0.062, 0.0, 0.06, 0.0, 0.0, 0.075, 0.075, 0.0, 0.0, 0.012, 0.012, 0.0, 0.0, 0.015, 0.015, 0.0, 0.015, 0.015, 0.0, 0.022, 0.0, 0.022, 0.0, 0.022, 0.022, 0.0, 0.0, 0.012, 0.012, 0.0, 0.0, 0.012, 0.012, 0.0, 0.0, 0.012, 0.012, 0.0, 0.0, 0.013, 0.013, 0.0, 0.0, 0.01, 0.01, 0.0, 0.0, 0.01, 0.01, 0.0, 0.0, 0.042, 0.042, 0.0, 0.0, 0.01, 0.01, 0.0, 0.0, 0.02, 0.02, 0.0, 0.0, 0.012, 0.012, 0.0, 0.0]
scan_marks = [980, 1545, 2555]

# --- panel E ---
e_x = [179, 192, 193, 200, 202, 204, 205, 208, 212, 215, 216, 228, 232, 234, 235, 240, 244, 245, 253, 254, 258, 262, 263, 280, 300, 320, 344, 345, 353, 354, 384, 385, 388, 394, 395, 410, 418, 424, 425, 433, 437, 440, 443, 446, 447, 449, 450, 452, 454, 457, 460, 466, 468, 470, 474, 476, 477, 480, 482, 489, 491, 495, 497, 499, 500, 501, 507, 510, 512, 535, 539, 543, 546, 547, 550, 553, 556, 558, 562, 601, 603, 611, 614, 621, 623, 632, 635, 679, 682, 689, 691, 695, 700]
e_pin = [0, 0, 0.014, 0.0135, 0, 0, 0.0145, 0.013, 0.013, 0.013, 0, 0, 0.0005, 0, 0.0135, 0.013, 0.013, 0, 0, 0.034, 0.035, 0.034, 0, 0, 0.0005, 0, 0, 0.013, 0.012, 0, 0.001, 0.037, 0.0355, 0.035, 0, 0.001, 0.002, 0.003, 0.017, 0.015, 0, 0.012, 0.037, 0.05, 0.063, 0.063, 0.05, 0.05, 0.023, 0.013, 0, 0, 0.052, 0.062, 0.061, 0.03, 0.01, 0.01, 0, 0, 0.053, 0.054, 0.063, 0.05, 0.034, 0.04, 0.037, 0.028, 0.0005, 0.0005, 0.021, 0.053, 0.06, 0.075, 0.058, 0.032, 0.016, 0.003, 0, 0, 0.0125, 0.012, 0, 0.001, 0.015, 0.013, 0, 0, 0.004, 0.004, 0, 0.001, 0]
e_ticks = [200, 220, 240, 260, 280, 300, 320, 340, 360, 380, 400, 420, 440, 460, 480, 500, 520, 540, 560, 580, 600, 620, 640, 660, 680, 700]


def add_axes(l, t, r, b):
    return fig.add_axes([l / W, 1 - b / H, (r - l) / W, (b - t) / H])


def scan_panel(l, t, r, b, x0, x8000, y100, y01, title):
    ax = add_axes(l, t, r, b)
    ax.set_yscale('log')
    per_px = 8000 / (x8000 - x0)
    ax.set_xlim((l - x0) * per_px, (r - x0) * per_px)
    dec = (y01 - y100) / 3
    ax.set_ylim(10 ** (2 - (b - y100) / dec), 10 ** (2 + (y100 - t) / dec))
    ax.set_xticks([0, 2000, 4000, 6000, 8000])
    ax.set_yticks([0.1, 1, 10, 100])
    ax.set_yticklabels(['0.1%', '1%', '10%', '100%'])
    ax.minorticks_off()
    ax.tick_params(length=6, width=1.2, labelsize=10.3, pad=1)
    ax.tick_params(axis='x', length=6.5, labelsize=10.8, pad=4)
    for s in ax.spines.values():
        s.set_linewidth(1.3)
    ax.axhline(50, color='k', lw=1.3, dashes=(3.4, 2.6), zorder=5)
    ax.set_title(title, fontsize=11.6, pad=2)
    return ax


def red(ax, x, y):
    ax.scatter(x, y, s=30, color=RED, linewidths=0, zorder=2, clip_on=False)


def red_band(ax, x, pct):
    red(ax, x, [pct] * len(x))


def blue(ax, x, y):
    ax.scatter(x, y, s=30, color=BLUE, linewidths=0, zorder=4, clip_on=False)


def gray(ax, x, y, fill=0.2, edge=0.5, z=3):
    ax.scatter(x, y, s=15, facecolor=(0, 0, 0, fill), edgecolor=(0, 0, 0, edge), linewidths=1.2, zorder=z, clip_on=False)


def gray_band(ax, x, pct, fill=0.2, edge=0.5, z=3):
    gray(ax, x, [pct] * len(x), fill, edge, z)


def variant_labels(ax, names, xs, ys):
    for name, x, y in zip(names, xs, ys):
        ax.text(x, y, name, fontsize=9.2, rotation=30, ha='center', va='center', rotation_mode='anchor', zorder=6)


def genome_map(l, r, t, b, fs, stub_l=None, stub_r=None, lab_fs=None, lab_y=None, lw=1.3):
    # drawn in nt, axes frame off; box ends match l and r in pixels
    left = stub_l if stub_l is not None else l
    right = stub_r if stub_r is not None else r
    ax = add_axes(left, t, right, b)
    ax.axis('off')
    per_px = (gene_edges[-1] - gene_edges[0]) / (r - l)
    ax.set_xlim(gene_edges[0] + (left - l) * per_px, gene_edges[0] + (right - l) * per_px)
    ax.set_ylim(0, 1)
    ax.add_patch(Rectangle((gene_edges[0], 0), gene_edges[-1] - gene_edges[0], 1, fill=False, lw=lw, clip_on=False))
    for e in gene_edges[1:-1]:
        ax.plot([e, e], [0, 1], color='k', lw=lw, clip_on=False)
    for i, name in enumerate(gene_names):
        ax.text((gene_edges[i] + gene_edges[i + 1]) / 2, 0.47, name, fontsize=fs, ha='center', va='center')
    if stub_l is not None:
        ax.plot([ax.get_xlim()[0], gene_edges[0]], [0.5, 0.5], color='k', lw=lw)
    if stub_r is not None:
        ax.plot([gene_edges[-1], ax.get_xlim()[1]], [0.5, 0.5], color='k', lw=lw)
    ly = (b - lab_y) / (b - t)
    ax.text((gene_edges[3] + gene_edges[4]) / 2, ly, 'p7', fontsize=lab_fs, ha='center', va='center', clip_on=False)
    ax.text((gene_edges[6] + gene_edges[7]) / 2, ly, 'NS4A', fontsize=lab_fs, ha='center', va='center', clip_on=False)


def pie_at(cx, cy, rad, values):
    ax = add_axes(cx - rad - 2, cy - rad - 2, cx + rad + 2, cy + rad + 2)
    ax.pie(values, colors=[BLUE, RED, GREEN], startangle=90, counterclock=False, radius=1)
    ax.set_xlim(-1 - 2 / rad, 1 + 2 / rad)
    ax.set_ylim(-1 - 2 / rad, 1 + 2 / rad)
    ax.add_patch(Circle((0, 0), 1, fill=False, ec='k', lw=1.0))


fig = plt.figure(figsize=(W / 100, H / 100), dpi=100)
overlay = fig.add_axes([0, 0, 1, 1])
overlay.set_xlim(0, W)
overlay.set_ylim(H, 0)
overlay.axis('off')

for letter, x, y in [('A', 3, 10), ('B', 3, 544), ('C', 540, 545), ('D', 3, 700), ('E', 540, 700)]:
    overlay.text(x, y, letter, fontsize=17.5, fontweight='bold', ha='left', va='center')

# panel A
ax = scan_panel(50, 22.5, 507.5, 134.5, 66.7, 422, 41.3, 130, 'NZP1 Inoculum')
red(ax, nzp_red_x, nzp_red_y)
blue(ax, nzp_blue_x, nzp_blue_y)
gray(ax, nzp_gray_x, nzp_gray_y)
gray_band(ax, nzp_gray_01, 0.1)
variant_labels(ax, nzp_labels, nzp_label_x, nzp_label_y)

ax = scan_panel(585.7, 22.5, 1046.7, 134.5, 602.3, 957.7, 41.3, 131, 'Horse P, ACUTE (day 11)')
red(ax, pa_red_x, pa_red_y)
blue(ax, pa_blue_x, pa_blue_y)
gray(ax, pa_gray_x, pa_gray_y)
variant_labels(ax, pa_labels, pa_label_x, pa_label_y)

ax = scan_panel(46, 192, 508.5, 305, 63.3, 421.7, 211.7, 301, 'Horse J, ACUTE (day 9)')
red(ax, j_red_x, j_red_y)
red_band(ax, j_red_01, 0.1)
red_band(ax, j_red_02, 0.2)
red_band(ax, j_red_03, 0.3)
red_band(ax, j_red_04, 0.4)
red_band(ax, j_red_05, 0.5)
blue(ax, j_blue_x, j_blue_y)
gray(ax, j_gray_x, j_gray_y)
gray_band(ax, j_gray_01, 0.1)
gray_band(ax, j_gray_02, 0.2)
gray_band(ax, j_gray_03, 0.3)
variant_labels(ax, j_labels, j_label_x, j_label_y)

ax = scan_panel(584, 192, 1046.7, 305, 601, 959.3, 211.7, 301, 'Horse P, FV (day 65)')
red(ax, fv_red_x, fv_red_y)
red_band(ax, fv_red_03, 0.3)
red_band(ax, fv_red_04, 0.4)
red_band(ax, fv_red_05, 0.5)
red_band(ax, fv_red_06, 0.6)
red_band(ax, fv_red_08, 0.8)
blue(ax, fv_blue_x, fv_blue_y)
gray(ax, fv_gray_x, fv_gray_y)
gray_band(ax, fv_gray_03, 0.3)
gray_band(ax, fv_gray_04, 0.4)
gray_band(ax, fv_gray_05, 0.55)
variant_labels(ax, fv_labels, fv_label_x, fv_label_y)

ax = scan_panel(48, 356, 508, 469.5, 64.3, 420, 375.7, 464.7, 'CU heterologous inoculum')
gray_band(ax, cu_gray_01, 0.1)
for xs, pct in [(cu_gray_02, 0.2), (cu_gray_03, 0.3), (cu_gray_04, 0.4)]:
    gray_band(ax, xs, pct)
# black under the red up to 0.8, over it above that
for xs, pct in [(cu_gray_05, 0.5), (cu_gray_06, 0.6), (cu_gray_07, 0.7), (cu_gray_08, 0.8)]:
    gray_band(ax, xs, pct, fill=0.5, edge=0.75, z=1)
for xs, pct in [(cu_gray_09, 0.9), (cu_gray_10, 1.0), (cu_gray_11, 1.1), (cu_gray_13, 1.3), (cu_gray_15, 1.5)]:
    gray_band(ax, xs, pct, fill=0.45, edge=0.7)
for xs, pct in [(cu_gray_18, 1.8), (cu_gray_25, 2.5)]:
    gray_band(ax, xs, pct, fill=0.3, edge=0.6)
for xs, pct in [(cu_gray_3, 3.2), (cu_gray_5, 5), (cu_gray_7, 7), (cu_gray_9, 9.5), (cu_gray_17, 17), (cu_gray_28, 28), (cu_gray_40, 40)]:
    gray_band(ax, xs, pct)
red(ax, cu_red_x, cu_red_y)
for xs, pct in [(cu_red_02, 0.2), (cu_red_03, 0.3), (cu_red_04, 0.4), (cu_red_05, 0.5), (cu_red_06, 0.6), (cu_red_08, 0.8), (cu_red_10, 1.0)]:
    red_band(ax, xs, pct)
blue(ax, cu_blue_x, cu_blue_y)

ax = scan_panel(584, 356, 1046.7, 469.5, 601, 959.3, 375.7, 465, 'Horse P, Challenge (hom.)')
red(ax, ch_red_x, ch_red_y)
blue(ax, ch_blue_x, ch_blue_y)
gray(ax, ch_gray_x, ch_gray_y)
gray_band(ax, ch_gray_02, 0.2)
gray_band(ax, ch_gray_01, 0.1)
variant_labels(ax, ch_labels, ch_label_x, ch_label_y)

genome_map(83.3, 484, 497.5, 518, 10, stub_l=66, stub_r=498, lab_fs=10, lab_y=527)
genome_map(615.7, 1016.3, 497.5, 518, 10, stub_l=598, stub_r=1030, lab_fs=10, lab_y=527)

# panel B
pie_at(50.7, 609, 49, pie_big)
for i, cx in enumerate([248, 330, 412.7, 494]):
    pie_at(cx, 620, 34, [pie_blue[i], pie_red[i], pie_green[i]])
    overlay.text(cx, 568, pie_titles[i], fontsize=10, ha='center', va='center', linespacing=1.35)
overlay.text(109, 568, 'CU heterologous\ninoculum', fontsize=10, ha='left', va='center', linespacing=1.35)
for name, col, y in zip(track_names[1:], [GREEN, BLUE, RED], [594.5, 613, 632]):
    overlay.add_patch(Rectangle((109, y - 4.8), 17, 9.6, fc=col, ec='k', lw=1.1))
    overlay.text(136, y, name, fontsize=10, ha='left', va='center')

# panel C
ax = add_axes(616, 564, 1015.7, 623)
ax.axis('off')
ax.set_xlim(1, 2946)
ax.set_ylim(59, 0)
rows = [(0, 12, track_nzp1), (15.3, 27, track_cu1), (31, 43, track_cu2), (46.3, 58.7, track_cu3)]
for top, bot, pos in rows:
    ax.add_patch(Rectangle((1, top), 2945, bot - top, fc='#DFDFE0', ec='none'))
    ax.vlines(pos, top, bot, color='k', lw=1.0, alpha=0.55)
for name, y, fs in zip(track_names, [570, 585, 601, 616.5], [10, 8.8, 8.8, 8.8]):
    overlay.text(577, y, name, fontsize=fs, ha='left', va='center')
ax = add_axes(616, 630, 1015.7, 631)
ax.set_xlim(1, 2946)
ax.set_yticks([])
ax.set_xticks(track_ticks)
ax.tick_params(axis='x', length=2, width=0.7, labelsize=10, pad=0, direction='out')
for s in ax.spines.values():
    s.set_visible(False)
genome_map(615.7, 1016.3, 647.3, 668.7, 10, lab_fs=10, lab_y=679)

# panel D
ax = add_axes(49, 725.7, 359.3, 848.7)
ax.plot(scan_x, scan_pis, color='#5CB848', lw=1.0)
ax.plot(scan_n_x, scan_pin, color=RED, lw=1.1)
ax.set_xlim(0, 10000)
ax.set_ylim(0, 0.3)
ax.set_xticks([0, 2000, 4000, 6000, 8000, 10000])
ax.set_yticks([0, 0.1, 0.2, 0.3])
ax.set_yticklabels(['0.0', '0.1', '0.2', '0.3'])
ax.tick_params(length=2.5, width=1.3, labelsize=10, pad=1.5)
ax.spines['top'].set_visible(False)
ax.spines['right'].set_visible(False)
ax.spines['left'].set_linewidth(1.5)
ax.spines['bottom'].set_linewidth(1.5)
ax.set_ylabel('Parwise distance', fontsize=11, labelpad=2)
ax.vlines(scan_marks, 0, 0.28, color='k', lw=1.3, linestyles=(0, (1, 1.6)), zorder=5)
ax.text(1260, 0.3, 'E1', fontsize=10.5, ha='center', va='center')
ax.text(2095, 0.3, 'E2', fontsize=10.5, ha='center', va='center')
ax.plot([8120, 8570], [0.29, 0.29], color=RED, lw=1.3)
ax.plot([8120, 8570], [0.245, 0.245], color='#5CB848', lw=1.3)
ax.text(8740, 0.29, 'πN', fontsize=10.5, ha='left', va='center')
ax.text(8740, 0.245, 'πS', fontsize=10.5, ha='left', va='center')
overlay.text(199, 703, 'Diversity scan, CU heterologous inoculum', fontsize=9.7, ha='center', va='center')
genome_map(60.3, 335, 874, 889, 6.6, stub_l=49, stub_r=345, lab_fs=6.6, lab_y=895.7)

# panel E
ax = add_axes(583.3, 725.7, 896, 846.7)
ax.plot(e_x, e_pin, color=RED, lw=1.6)
ax.set_xlim(179.5, 700)
ax.set_ylim(0, 0.08)
ax.set_xticks(e_ticks)
ax.set_yticks([0, 0.02, 0.04, 0.06, 0.08])
ax.set_yticklabels(['0.00', '0.02', '0.04', '0.06', '0.08'])
ax.tick_params(axis='y', length=2.5, width=1.3, labelsize=10, pad=1.5)
ax.tick_params(axis='x', length=3, width=1.0, labelsize=7.8, pad=1.5, rotation=90)
ax.spines['top'].set_visible(False)
ax.spines['right'].set_visible(False)
ax.spines['left'].set_linewidth(1.5)
ax.spines['bottom'].set_linewidth(1.5)
ax.set_ylabel('Parwise distance', fontsize=11, labelpad=2)
ax.plot([642, 670], [0.0745, 0.0745], color=RED, lw=1.4)
ax.text(678, 0.0745, 'πN', fontsize=10.5, ha='left', va='center')
overlay.text(774, 703, 'Diversity scan, CU heterologous inoculum', fontsize=9.7, ha='center', va='center')
overlay.plot([585, 896], [875, 875], color='k', lw=1.0)
overlay.plot([585, 896], [889, 889], color='k', lw=1.0)
overlay.plot([710, 710], [875, 889], color='k', lw=1.0)
overlay.text(644, 882, 'E1', fontsize=6.6, ha='center', va='center')
overlay.text(805, 882, 'E2', fontsize=6.6, ha='center', va='center')

fig.savefig('out.png', dpi=100)
